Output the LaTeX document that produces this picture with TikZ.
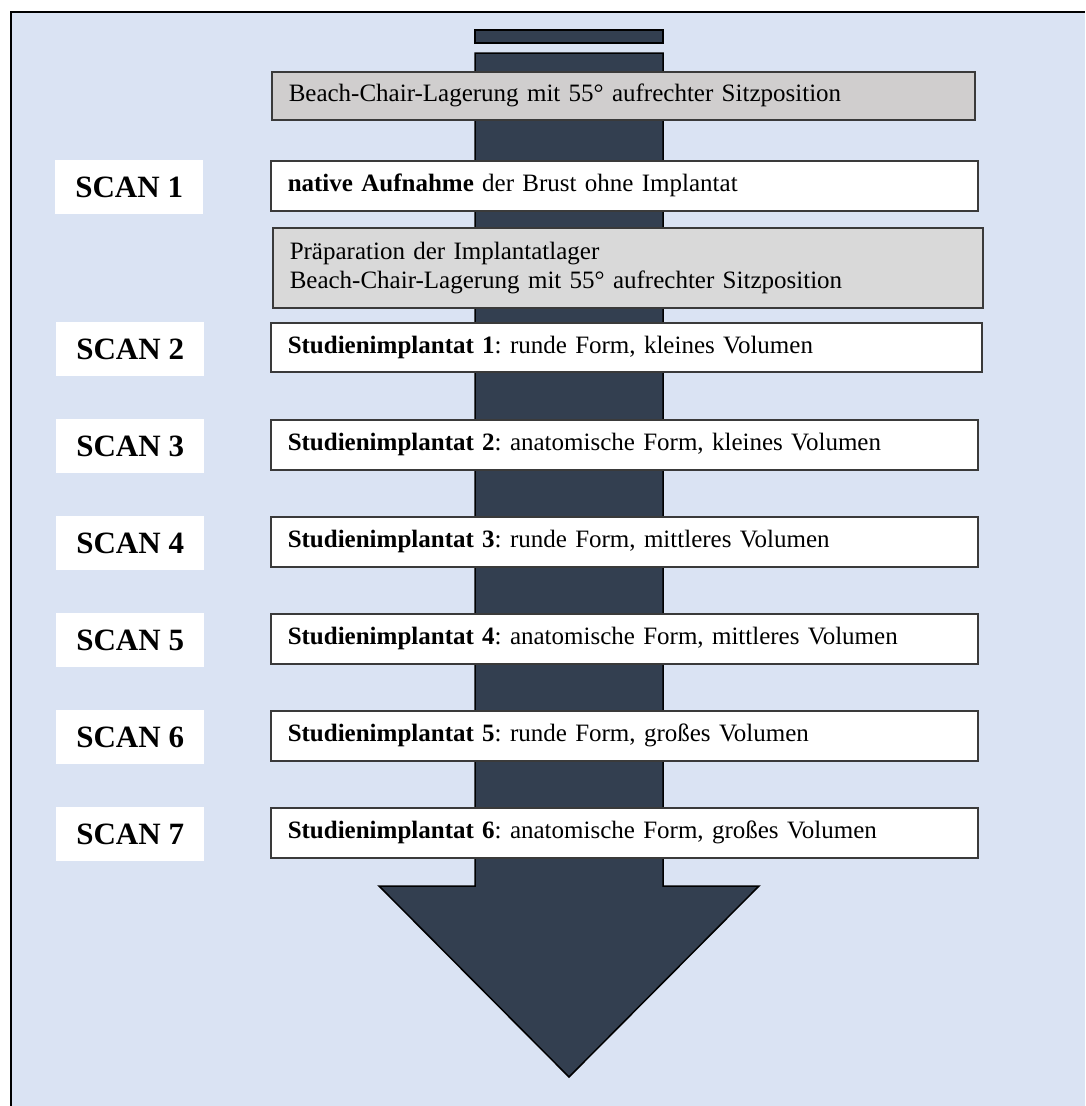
\documentclass[tikz,border=0pt]{standalone}
\usepackage{fontspec}
\setmainfont{Liberation Serif}
\frenchspacing
\definecolor{bgblue}{HTML}{DAE3F3}
\definecolor{arrowdark}{HTML}{333F50}
\definecolor{grayA}{HTML}{D0CECE}
\definecolor{grayB}{HTML}{D9D9D9}
\definecolor{edgegray}{HTML}{3A3A3A}
\tikzset{
  stepbox/.style={draw=edgegray, line width=1.5pt, anchor=north west, inner xsep=17pt, inner ysep=0pt,
    align=left, font=\fontsize{25}{29}\selectfont\frenchspacing},
  scanlabel/.style={fill=white, anchor=north west, minimum width=148pt, minimum height=54pt,
    inner sep=0pt, font=\fontsize{31}{35}\selectfont\bfseries},
  arrowshape/.style={fill=arrowdark, draw=black, line width=1.5pt, line join=miter},
}
\begin{document}
\begin{tikzpicture}[x=1pt,y=-1pt]
\useasboundingbox (0,0) rectangle (1085,1106);
% frame
\fill[bgblue] (11,12) rectangle (1085,1106);
\draw[line width=2pt, black] (11,1106) -- (11,12) -- (1085,12);
% arrow
\draw[arrowshape] (475,30) rectangle (663,43);
\draw[arrowshape] (475,53) -- (663,53) -- (663,886) -- (759,886) -- (569,1077) -- (379,886) -- (475,886) -- cycle;
% boxes
\node[stepbox, fill=grayA, text width=669pt, minimum height=48pt] (g1) at (271,71)
  {Beach-Chair-Lagerung mit 55° aufrechter Sitzposition};
\node[scanlabel] (s1) at (55,160) {SCAN 1};
\node[stepbox, fill=white, text width=673pt, minimum height=50pt] (b1) at (270,160)
  {\textbf{native Aufnahme} der Brust ohne Implantat};
\node[stepbox, fill=grayB, text width=676pt, minimum height=80pt] (g2) at (272,227)
  {Präparation der Implantatlager\\Beach-Chair-Lagerung mit 55° aufrechter Sitzposition};
\node[scanlabel] (s2) at (56,322) {SCAN 2};
\node[stepbox, fill=white, text width=677pt, minimum height=49pt] (b2) at (270,322)
  {\textbf{Studienimplantat 1}: runde Form, kleines Volumen};
\node[scanlabel] (s3) at (56,419) {SCAN 3};
\node[stepbox, fill=white, text width=673pt, minimum height=50pt] (b3) at (270,419)
  {\textbf{Studienimplantat 2}: anatomische Form, kleines Volumen};
\node[scanlabel] (s4) at (56,516) {SCAN 4};
\node[stepbox, fill=white, text width=673pt, minimum height=50pt] (b4) at (270,516)
  {\textbf{Studienimplantat 3}: runde Form, mittleres Volumen};
\node[scanlabel] (s5) at (56,613) {SCAN 5};
\node[stepbox, fill=white, text width=673pt, minimum height=50pt] (b5) at (270,613)
  {\textbf{Studienimplantat 4}: anatomische Form, mittleres Volumen};
\node[scanlabel] (s6) at (56,710) {SCAN 6};
\node[stepbox, fill=white, text width=673pt, minimum height=50pt] (b6) at (270,710)
  {\textbf{Studienimplantat 5}: runde Form, großes Volumen};
\node[scanlabel] (s7) at (56,807) {SCAN 7};
\node[stepbox, fill=white, text width=673pt, minimum height=50pt] (b7) at (270,807)
  {\textbf{Studienimplantat 6}: anatomische Form, großes Volumen};
\end{tikzpicture}
\end{document}
